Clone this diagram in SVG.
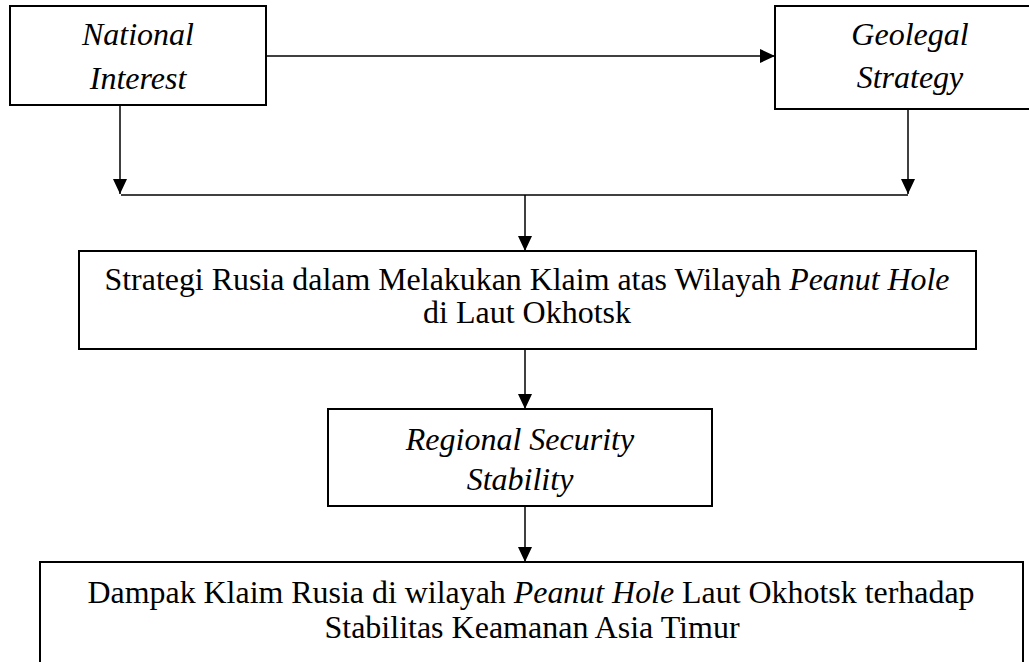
<svg xmlns="http://www.w3.org/2000/svg" width="1029" height="662" viewBox="0 0 1029 662">
<style>
.box{fill:#fff;stroke:#000;stroke-width:2}
.ln{fill:none;stroke:#000;stroke-width:1.5}
text{fill:#000;text-anchor:middle}
.i{font-style:italic}
</style>
<defs>
<marker id="ahv" markerWidth="15" markerHeight="14" viewBox="0 0 15 14" refX="15" refY="7" orient="auto" markerUnits="userSpaceOnUse">
<path d="M0,0 L15,7 L0,14 Z" fill="#000"/>
</marker>
</defs>
<rect width="1029" height="662" fill="#fff"/>
<g id="connectors">
<line class="ln" x1="266" y1="56" x2="775" y2="56" marker-end="url(#ahv)"/>
<line class="ln" x1="120" y1="105" x2="120" y2="194" marker-end="url(#ahv)"/>
<line class="ln" x1="908" y1="109" x2="908" y2="194" marker-end="url(#ahv)"/>
<line class="ln" x1="121" y1="195" x2="908" y2="195"/>
<line class="ln" x1="525" y1="195" x2="525" y2="251" marker-end="url(#ahv)"/>
<line class="ln" x1="525" y1="349" x2="525" y2="409" marker-end="url(#ahv)"/>
<line class="ln" x1="525" y1="506" x2="525" y2="562" marker-end="url(#ahv)"/>
</g>
<g font-family="Liberation Serif, Times New Roman, Tinos, serif" font-size="32">
<g id="national-interest">
<rect class="box" x="10" y="6" width="256" height="99"/>
<text class="i" x="138" y="45">National</text>
<text class="i" x="138" y="89">Interest</text>
</g>
<g id="geolegal-strategy">
<rect class="box" x="775" y="6" width="280" height="103"/>
<text class="i" x="910" y="45">Geolegal</text>
<text class="i" x="910" y="88">Strategy</text>
</g>
<g id="strategi-rusia">
<rect class="box" x="79" y="251" width="897" height="98"/>
<text x="527" y="290" textLength="845" lengthAdjust="spacingAndGlyphs">Strategi Rusia dalam Melakukan Klaim atas Wilayah <tspan class="i">Peanut Hole</tspan></text>
<text x="527" y="323">di Laut Okhotsk</text>
</g>
<g id="regional-security">
<rect class="box" x="328" y="409" width="384" height="97"/>
<text class="i" x="520" y="450">Regional Security</text>
<text class="i" x="520" y="490">Stability</text>
</g>
<g id="dampak">
<rect class="box" x="40" y="562" width="983" height="140"/>
<text x="531" y="603" textLength="887" lengthAdjust="spacingAndGlyphs">Dampak Klaim Rusia di wilayah <tspan class="i">Peanut Hole</tspan> Laut Okhotsk terhadap</text>
<text x="532" y="638">Stabilitas Keamanan Asia Timur</text>
</g>
</g>
</svg>
